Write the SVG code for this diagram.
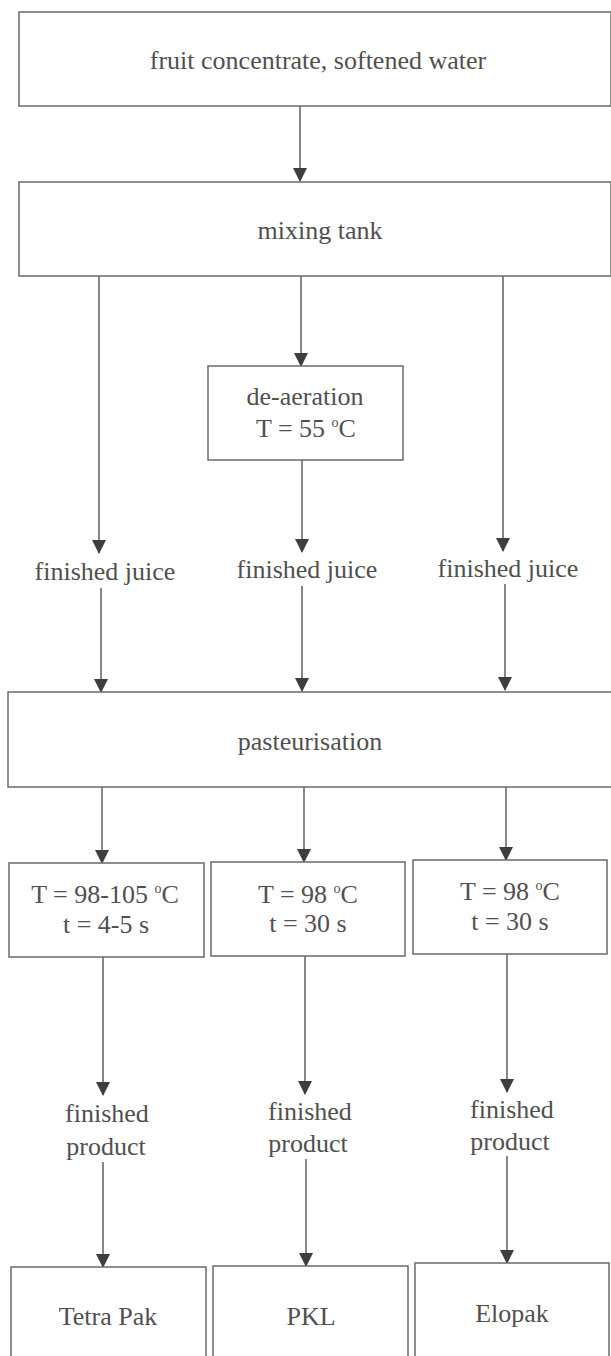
<svg xmlns="http://www.w3.org/2000/svg" width="611" height="1356" viewBox="0 0 611 1356">
<defs>
<marker id="ah" markerUnits="userSpaceOnUse" markerWidth="14" markerHeight="16" refX="13" refY="7" orient="auto">
<path d="M0,0 L14,7 L0,14 Z" fill="#3e3e3e"/>
</marker>
<style>
.box{fill:#fff;stroke:#6a6a6a;stroke-width:1.5}
.c{stroke:#555;stroke-width:1.4;fill:none;marker-end:url(#ah)}
text{font-family:"Liberation Serif","Times New Roman",serif;font-size:26px;fill:#505050;text-anchor:middle}
.sup{font-size:14px}
</style>
</defs>
<rect width="611" height="1356" fill="#fff"/>
<g id="connectors">
<line class="c" x1="300" y1="106" x2="300" y2="181"/>
<line class="c" x1="99" y1="276" x2="99" y2="553"/>
<line class="c" x1="301" y1="276" x2="301" y2="366"/>
<line class="c" x1="503" y1="276" x2="503" y2="551"/>
<line class="c" x1="302" y1="460" x2="302" y2="552"/>
<line class="c" x1="101" y1="588" x2="101" y2="692"/>
<line class="c" x1="302" y1="586" x2="302" y2="691"/>
<line class="c" x1="505" y1="584" x2="505" y2="690"/>
<line class="c" x1="102" y1="787" x2="102" y2="863"/>
<line class="c" x1="304" y1="786" x2="304" y2="862"/>
<line class="c" x1="506" y1="785" x2="506" y2="860"/>
<line class="c" x1="103" y1="957" x2="103" y2="1095"/>
<line class="c" x1="305" y1="956" x2="305" y2="1094"/>
<line class="c" x1="507" y1="954" x2="507" y2="1092"/>
<line class="c" x1="103" y1="1162" x2="103" y2="1267"/>
<line class="c" x1="306" y1="1159" x2="306" y2="1266"/>
<line class="c" x1="507" y1="1156" x2="507" y2="1263"/>
</g>
<g id="n-fruit"><rect class="box" x="19" y="12" width="592" height="94"/><text x="318" y="69">fruit concentrate, softened water</text></g>
<g id="n-mixing"><rect class="box" x="19" y="182" width="592" height="94"/><text x="320" y="239">mixing tank</text></g>
<g id="n-deaeration"><rect class="box" x="208" y="366" width="195" height="94"/><text x="305" y="405">de-aeration</text><text x="306" y="437">T = 55 <tspan class="sup" dy="-10">o</tspan><tspan dy="10">C</tspan></text></g>
<g id="n-juice1"><text x="105" y="580">finished juice</text></g>
<g id="n-juice2"><text x="307" y="578">finished juice</text></g>
<g id="n-juice3"><text x="508" y="577">finished juice</text></g>
<g id="n-past"><rect class="box" x="8" y="692" width="611" height="95"/><text x="310" y="750">pasteurisation</text></g>
<g id="n-cond1"><rect class="box" x="9" y="863" width="195" height="94"/><text x="105" y="903">T = 98-105 <tspan class="sup" dy="-10">o</tspan><tspan dy="10">C</tspan></text><text x="106" y="933">t = 4-5 s</text></g>
<g id="n-cond2"><rect class="box" x="211" y="862" width="194" height="94"/><text x="308" y="903">T = 98 <tspan class="sup" dy="-10">o</tspan><tspan dy="10">C</tspan></text><text x="308" y="932">t = 30 s</text></g>
<g id="n-cond3"><rect class="box" x="413" y="860" width="194" height="94"/><text x="510" y="900">T = 98 <tspan class="sup" dy="-10">o</tspan><tspan dy="10">C</tspan></text><text x="510" y="930">t = 30 s</text></g>
<g id="n-prod1"><text x="107" y="1122">finished</text><text x="106" y="1155">product</text></g>
<g id="n-prod2"><text x="310" y="1120">finished</text><text x="308" y="1152">product</text></g>
<g id="n-prod3"><text x="512" y="1118">finished</text><text x="510" y="1150">product</text></g>
<g id="n-tetra"><rect class="box" x="11" y="1267" width="195" height="100"/><text x="108" y="1325">Tetra Pak</text></g>
<g id="n-pkl"><rect class="box" x="213" y="1266" width="195" height="100"/><text x="311" y="1325">PKL</text></g>
<g id="n-elopak"><rect class="box" x="415" y="1263" width="194" height="100"/><text x="512" y="1322">Elopak</text></g>
</svg>
